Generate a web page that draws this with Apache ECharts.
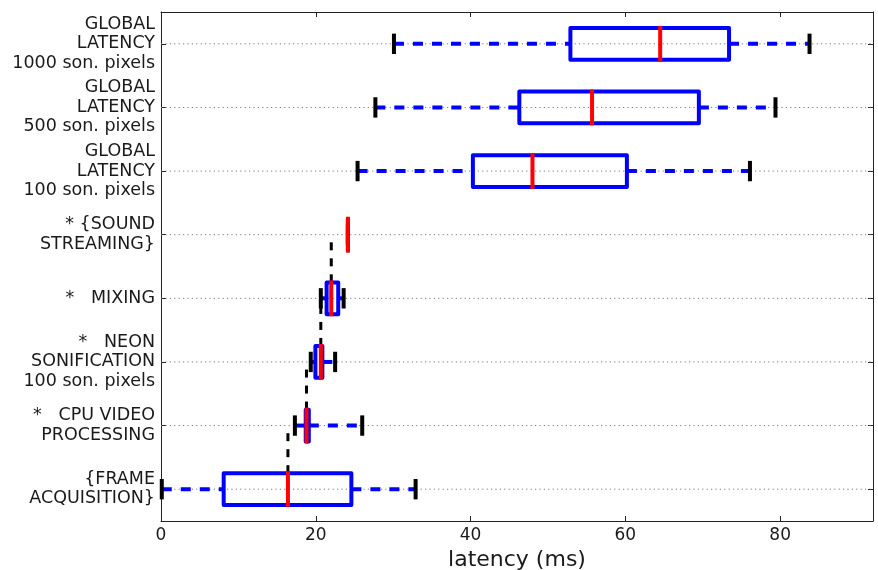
<!DOCTYPE html>
<html><head><meta charset="utf-8">
<script src="https://cdn.jsdelivr.net/npm/echarts@6/dist/echarts.min.js"></script>
<style>html,body{margin:0;padding:0;background:#fff}#c{width:878px;height:570px}</style>
</head><body><div id="c"></div>
<script>
// Categories listed bottom to top
const categories = [
  '{FRAME\nACQUISITION}',
  '*   CPU VIDEO\nPROCESSING',
  '*   NEON\nSONIFICATION\n100 son. pixels',
  '*   MIXING',
  '* {SOUND\nSTREAMING}',
  'GLOBAL\nLATENCY\n100 son. pixels',
  'GLOBAL\nLATENCY\n500 son. pixels',
  'GLOBAL\nLATENCY\n1000 son. pixels'
];
const whiskerLow  = [0.1, 17.3, 19.35, 20.65, 24.15, 25.4, 27.7, 30.1];
const q1          = [8.1, 18.7, 19.95, 21.4, 24.15, 40.3, 46.3, 52.9];
const median      = [16.4, 18.8, 20.65, 22.0, 24.15, 48.0, 55.7, 64.5];
const q3          = [24.6, 19.1, 20.85, 22.9, 24.15, 60.2, 69.5, 73.4];
const whiskerHigh = [32.9, 26.0, 22.5, 23.6, 24.15, 76.1, 79.4, 83.8];
// medians of the lower stages chained by the dashed black line
const chainRows = [0, 1, 2, 3];
const xTicks = [0, 20, 40, 60, 80];
const X_MIN = 0, X_MAX = 92;

const FONT = 'DejaVu Sans';
const TXT = '#1a1a1a';
const AX = '#222';

const boxData = categories.map((c, i) => [i, whiskerLow[i], q1[i], median[i], q3[i], whiskerHigh[i]]);
const chainData = chainRows.map(i => [i, median[i]]);
const gridData = categories.map((c, i) => [i]);

const chart = echarts.init(document.getElementById('c'), null, {renderer: 'canvas'});
const axisLine = {show: true, onZero: false, lineStyle: {color: AX, width: 1}};
chart.setOption({
  animation: false,
  backgroundColor: '#fff',
  grid: {left: 161, right: 5, top: 12, bottom: 49, containLabel: false, outerBoundsMode: 'none'},
  xAxis: [{
    type: 'value', min: X_MIN, max: X_MAX, interval: 20, position: 'bottom',
    axisLine: axisLine,
    axisTick: {show: true, inside: true, length: 5, lineStyle: {color: AX, width: 1}},
    axisLabel: {fontSize: 17, color: TXT, fontFamily: FONT, margin: 6,
      formatter: v => xTicks.includes(v) ? String(v) : ''},
    splitLine: {show: false},
    name: 'latency (ms)', nameLocation: 'middle', nameGap: 24,
    nameTextStyle: {fontSize: 22, color: TXT, fontFamily: FONT}
  }, {
    type: 'value', min: X_MIN, max: X_MAX, interval: 20, position: 'top',
    axisLine: axisLine,
    axisTick: {show: true, inside: true, length: 5, lineStyle: {color: AX, width: 1}},
    axisLabel: {show: false}, splitLine: {show: false}
  }],
  yAxis: [{
    type: 'category', data: categories, position: 'left',
    axisLine: axisLine,
    axisTick: {show: true, inside: true, alignWithLabel: true, interval: 0, length: 5, lineStyle: {color: AX}},
    axisLabel: {interval: 0, fontSize: 17.5, lineHeight: 19.5, color: TXT, fontFamily: FONT, margin: 6, align: 'right'},
    splitLine: {show: false}
  }, {
    type: 'category', data: categories, position: 'right',
    axisLine: axisLine,
    axisTick: {show: true, inside: true, alignWithLabel: true, interval: 0, length: 5, lineStyle: {color: AX}},
    axisLabel: {show: false}, splitLine: {show: false}
  }],
  series: [{
    // dotted horizontal grid lines at each row
    type: 'custom', z: 1, silent: true,
    data: gridData, encode: {y: 0},
    renderItem: (params, api) => {
      const y = api.value(0);
      const a = api.coord([X_MIN, y]), b = api.coord([X_MAX, y]);
      return {type: 'line', shape: {x1: a[0], y1: a[1], x2: b[0], y2: b[1]},
        style: {stroke: '#777', lineWidth: 1, lineDash: [1.2, 3.2]}};
    }
  }, {
    // black dashed chain of medians
    type: 'custom', z: 2, silent: true,
    data: chainData, encode: {y: 0, x: 1},
    renderItem: (params, api) => {
      const i = api.value(0), m = api.value(1);
      const a = api.coord([m, i]), b = api.coord([m, i + 1]);
      return {type: 'line', shape: {x1: a[0], y1: a[1], x2: b[0], y2: b[1]},
        style: {stroke: '#000', lineWidth: 3, lineDash: [8, 8]}};
    }
  }, {
    type: 'custom', z: 3, silent: true, clip: false,
    data: boxData, encode: {y: 0, x: [1, 2, 3, 4, 5]},
    renderItem: (params, api) => {
      const y = api.value(0);
      const band = api.size([0, 1])[1];
      const hb = band * 0.25, hc = band * 0.16;
      const pWl = api.coord([api.value(1), y]);
      const pQ1 = api.coord([api.value(2), y]);
      const pMd = api.coord([api.value(3), y]);
      const pQ3 = api.coord([api.value(4), y]);
      const pWh = api.coord([api.value(5), y]);
      const cy = pMd[1];
      const blueDash = {stroke: '#0000ff', lineWidth: 4, lineDash: [10, 9], lineCap: 'butt'};
      const children = [];
      if (pQ1[0] - pWl[0] > 0.5) children.push({type: 'line', shape: {x1: pWl[0], y1: cy, x2: pQ1[0], y2: cy}, style: blueDash});
      if (pWh[0] - pQ3[0] > 0.5) children.push({type: 'line', shape: {x1: pQ3[0], y1: cy, x2: pWh[0], y2: cy}, style: blueDash});
      children.push({type: 'line', shape: {x1: pWl[0], y1: cy - hc, x2: pWl[0], y2: cy + hc}, style: {stroke: '#000', lineWidth: 4}});
      children.push({type: 'line', shape: {x1: pWh[0], y1: cy - hc, x2: pWh[0], y2: cy + hc}, style: {stroke: '#000', lineWidth: 4}});
      children.push({type: 'rect', shape: {x: pQ1[0], y: cy - hb, width: pQ3[0] - pQ1[0], height: 2 * hb},
        style: {fill: 'none', stroke: '#0000ff', lineWidth: 4, lineJoin: 'round'}});
      children.push({type: 'line', shape: {x1: pMd[0], y1: cy - hb - 2, x2: pMd[0], y2: cy + hb + 2}, style: {stroke: '#ff0000', lineWidth: 4}});
      return {type: 'group', children: children};
    }
  }]
});
</script></body></html>
